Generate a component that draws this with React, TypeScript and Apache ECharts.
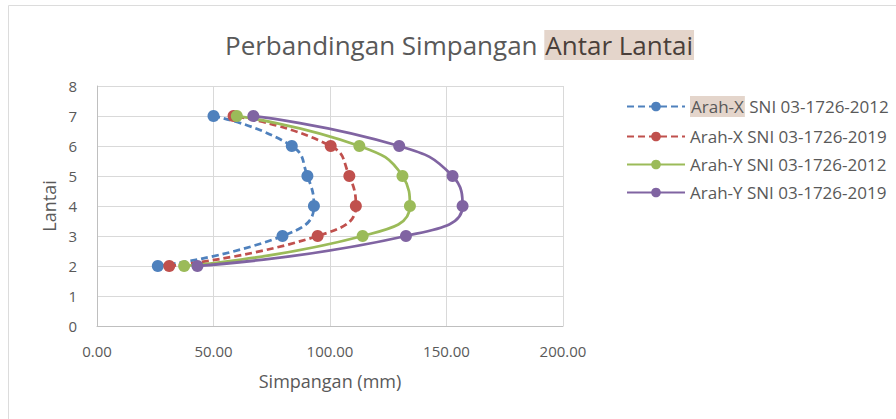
import React, { useEffect, useRef } from "react";
import * as echarts from "echarts";

const floors = [2, 3, 4, 5, 6, 7];
const arahX2012 = [26.1, 79.6, 93.1, 90.3, 83.6, 50.0];
const arahX2019 = [31.0, 94.7, 111.1, 108.3, 100.3, 58.6];
const arahY2012 = [37.4, 114.0, 134.3, 131.1, 112.6, 60.0];
const arahY2019 = [43.1, 132.6, 156.9, 152.6, 129.7, 67.1];

const seriesNames = [
  "Arah-X SNI 03-1726-2012",
  "Arah-X SNI 03-1726-2019",
  "Arah-Y SNI 03-1726-2012",
  "Arah-Y SNI 03-1726-2019",
];
const seriesValues = [arahX2012, arahX2019, arahY2012, arahY2019];
const seriesColors = ["#4F81BD", "#C0504D", "#9BBB59", "#8064A2"];
const seriesDashed = [true, true, false, false];

const FONT = "'Open Sans', sans-serif";
const TXT = "#595959";
const HL = "#E4D5CB";

export default function App() {
  const ref = useRef<HTMLDivElement>(null);
  useEffect(() => {
    if (!ref.current) return;
    const chart = echarts.init(ref.current, undefined, { renderer: "svg" });
    const series = seriesNames.map((name, i) => ({
      name,
      type: "line",
      smooth: 0.5,
      symbol: "circle",
      symbolSize: 12,
      data: seriesValues[i].map((v, k) => [v, floors[k]]),
      itemStyle: { color: seriesColors[i] },
      lineStyle: {
        color: seriesColors[i],
        width: 2.75,
        type: seriesDashed[i] ? [7, 4] : "solid",
      },
    }));
    chart.setOption({
      animation: false,
      backgroundColor: "#ffffff",
      textStyle: { fontFamily: FONT },
      graphic: [
        {
          type: "rect",
          shape: { x: 8.5, y: 5.5, width: 1000, height: 1000 },
          style: { fill: "none", stroke: "#DCDCDC", lineWidth: 1 },
          silent: true,
        },
      ],
      title: {
        text: "Perbandingan Simpangan {h|Antar Lantai}",
        left: 220,
        top: 25,
        textStyle: {
          fontFamily: FONT,
          fontSize: 26,
          fontWeight: "normal",
          color: TXT,
          rich: {
            h: {
              fontFamily: FONT,
              fontSize: 26,
              color: "#4a3f3a",
              backgroundColor: HL,
              padding: [2, 1, 2, 1],
            },
          },
        },
      },
      legend: {
        orient: "vertical",
        left: 621,
        top: 91,
        itemWidth: 58,
        itemHeight: 12,
        itemGap: 11,
        data: seriesNames,
        formatter: (name: string) =>
          name === seriesNames[0] ? "{h|Arah-X} SNI 03-1726-2012" : name,
        textStyle: {
          fontFamily: FONT,
          fontSize: 17,
          color: TXT,
          rich: {
            h: {
              fontFamily: FONT,
              fontSize: 17,
              color: TXT,
              backgroundColor: HL,
              padding: [2, 1, 2, 1],
            },
          },
        },
      },
      grid: { left: 97, right: 333, top: 86, bottom: 93 },
      xAxis: {
        type: "value",
        min: 0,
        max: 200,
        interval: 50,
        name: "Simpangan (mm)",
        nameLocation: "middle",
        nameGap: 46,
        nameTextStyle: { fontFamily: FONT, fontSize: 18, color: TXT },
        axisLine: { show: true, lineStyle: { color: "#BFBFBF" } },
        axisTick: { show: false },
        axisLabel: {
          fontFamily: FONT,
          fontSize: 15,
          color: TXT,
          margin: 17,
          formatter: (v: number) => v.toFixed(2),
        },
        splitLine: { show: true, lineStyle: { color: "#D9D9D9", width: 1 } },
      },
      yAxis: {
        type: "value",
        min: 0,
        max: 8,
        interval: 1,
        name: "Lantai",
        nameLocation: "middle",
        nameGap: 36,
        nameTextStyle: { fontFamily: FONT, fontSize: 18, color: TXT },
        axisLine: { show: true, lineStyle: { color: "#BFBFBF" } },
        axisTick: { show: false },
        axisLabel: { fontFamily: FONT, fontSize: 15, color: TXT, margin: 20 },
        splitLine: { show: true, lineStyle: { color: "#D9D9D9", width: 1 } },
      },
      series,
    });
    return () => chart.dispose();
  }, []);
  return (
    <div
      ref={ref}
      style={{ position: "absolute", left: 0, top: 0, width: 896, height: 419 }}
    />
  );
}
